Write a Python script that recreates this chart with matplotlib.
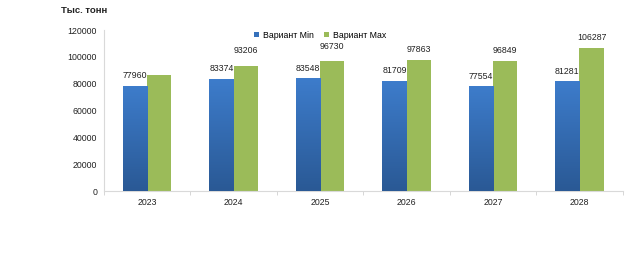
import matplotlib.pyplot as plt
import numpy as np
from matplotlib.colors import LinearSegmentedColormap

years = ["2023", "2024", "2025", "2026", "2027", "2028"]
v_min = [77960, 83374, 83548, 81709, 77554, 81281]
v_max = [86500, 93206, 96730, 97863, 96849, 106287]
lbl_max = [None, "93206", "96730", "97863", "96849", "106287"]

plt.rcParams['font.family'] = ['Liberation Sans', 'DejaVu Sans']

fig = plt.figure(figsize=(6.4, 2.68), dpi=100)
ax = fig.add_axes([0.1625, 0.287, 0.8105, 0.601])

x = np.arange(len(years))
w = 0.28
blue = "#3671bb"
green = "#9bbb59"

b1 = ax.bar(x - w/2, v_min, w, color=blue, label="Вариант Min", zorder=2)
b2 = ax.bar(x + w/2, v_max, w, color=green, label="Вариант Max", zorder=2)

# vertical gradient on the blue bars
cmap = LinearSegmentedColormap.from_list("bl", ["#2a5995", "#3d7ccb"])
grad = np.linspace(0, 1, 100).reshape(-1, 1)
for r in b1:
    x0, h, bw = r.get_x(), r.get_height(), r.get_width()
    ax.imshow(grad, cmap=cmap, origin="lower", aspect="auto",
              extent=(x0, x0 + bw, 0, h), zorder=3)

for r, v in zip(b1, v_min):
    ax.text(r.get_x() + r.get_width()/2, v + 4500, str(v), ha="center",
            va="bottom", fontsize=6.3, color="#222222")
for i, (r, t) in enumerate(zip(b2, lbl_max)):
    if t is None:
        continue
    extra = 3500 if i in (1, 2) else 0
    ax.text(r.get_x() + r.get_width()/2, r.get_height() + 4500 + extra, t,
            ha="center", va="bottom", fontsize=6.3, color="#222222")

ax.set_xlim(-0.5, 5.5)
ax.set_ylim(0, 120000)
ax.set_yticks(range(0, 120001, 20000))
ax.set_xticks(x)
ax.set_xticklabels(years)
ax.set_xticks(np.arange(-0.5, 6.0, 1.0), minor=True)
ax.tick_params(axis="x", which="major", length=0, pad=5, labelsize=6.3, colors="#222222")
ax.tick_params(axis="x", which="minor", length=3, color="#d0d0d0")
ax.tick_params(axis="y", length=0, pad=5, labelsize=6.3, colors="#222222")

for s in ["top", "right"]:
    ax.spines[s].set_visible(False)
ax.spines["left"].set_color("#d9d9d9")
ax.spines["bottom"].set_color("#d9d9d9")

fig.text(0.095, 0.962, "Тыс. тонн", fontsize=6.8, fontweight="bold",
         ha="left", va="center", color="#222222")

fig.legend(loc="center", bbox_to_anchor=(0.5, 0.869), ncol=2, frameon=False,
           fontsize=6.3, handlelength=0.6, handleheight=0.6, handletextpad=0.4,
           columnspacing=1.2)

fig.savefig("out.png", dpi=100)
